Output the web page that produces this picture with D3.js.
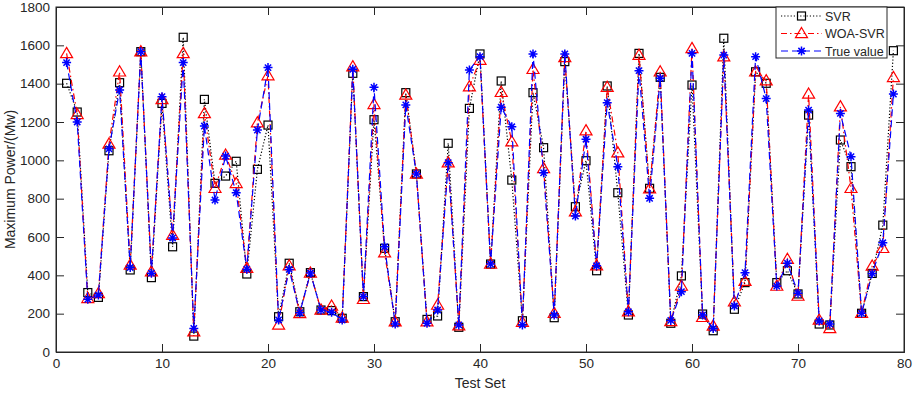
<!DOCTYPE html>
<html><head><meta charset="utf-8">
<script src="https://cdn.jsdelivr.net/npm/d3@7"></script>
<style>body{margin:0;background:#fff}svg{display:block;font-family:"Liberation Sans",Arial,sans-serif}</style>
</head><body>
<svg id="chart" width="913" height="393"></svg>
<script>
const testSet = d3.range(1, 80);
const svr = [1402,1252,310,285,1050,1405,428,1567,388,1297,549,1642,83,1318,880,918,995,407,953,1184,
184,463,210,414,219,216,176,1454,289,1212,541,158,1353,929,170,188,1089,129,1271,1555,
459,1414,897,163,1353,1066,179,1515,758,998,424,1388,831,193,1558,854,1433,150,397,1393,
198,111,1637,223,362,1462,1402,362,424,303,1236,146,141,1106,967,202,410,662,1572];
const woaSvr = [1558,1240,280,306,1085,1462,454,1567,419,1318,610,1558,106,1245,854,1028,880,437,1196,1442,
141,450,201,412,220,240,178,1489,275,1292,518,158,1341,929,158,245,988,137,1384,1523,
459,1355,1097,155,1475,958,202,1537,732,1155,450,1381,1040,210,1549,852,1462,160,344,1584,
181,136,1541,262,370,1462,1416,344,484,292,1346,167,123,1280,854,202,449,541,1433];
const trueValue = [1510,1200,275,297,1060,1367,441,1567,411,1332,595,1510,123,1179,793,1022,831,432,1158,1484,
167,431,205,412,219,208,167,1475,289,1381,549,146,1289,929,150,219,988,141,1471,1541,
459,1277,1175,141,1555,935,193,1555,709,1110,450,1301,967,210,1468,802,1428,165,315,1558,
193,123,1549,240,414,1541,1322,344,463,306,1262,162,146,1245,1019,202,410,570,1346];
const xTicks = [0,10,20,30,40,50,60,70,80];
const yTicks = [0,200,400,600,800,1000,1200,1400,1600,1800];
const seriesNames = ["SVR","WOA-SVR","True value"];

const svg = d3.select("#chart");
const L=56,R=904,T=7,B=352;
const x = d3.scaleLinear().domain([0,80]).range([L,R]);
const y = d3.scaleLinear().domain([0,1800]).range([B,T]);
const axisCol = "#262626";
const tl = 8;
const fmt = d3.format("d");

svg.append("rect").attr("x",L).attr("y",T).attr("width",R-L).attr("height",B-T)
  .attr("fill","none").attr("stroke",axisCol).attr("stroke-width",1);

const gx = svg.append("g").attr("transform",`translate(0,${B})`)
  .call(d3.axisBottom(x).tickValues(xTicks).tickSize(-tl).tickPadding(6).tickFormat(fmt));
const gxt = svg.append("g").attr("transform",`translate(0,${T})`)
  .call(d3.axisTop(x).tickValues(xTicks).tickSize(-tl).tickFormat(""));
const gy = svg.append("g").attr("transform",`translate(${L},0)`)
  .call(d3.axisLeft(y).tickValues(yTicks).tickSize(-tl).tickPadding(6).tickFormat(fmt));
const gyr = svg.append("g").attr("transform",`translate(${R},0)`)
  .call(d3.axisRight(y).tickValues(yTicks).tickSize(-tl).tickFormat(""));
[gx,gxt,gy,gyr].forEach(g=>{
  g.select(".domain").attr("stroke",axisCol);
  g.selectAll(".tick line").attr("stroke",axisCol);
  g.selectAll(".tick text").attr("fill",axisCol).style("font-size","13.5px");
});

svg.append("text").attr("x",(L+R)/2).attr("y",388).attr("text-anchor","middle")
  .attr("fill",axisCol).style("font-size","14px").text("Test Set");
svg.append("text").attr("transform",`translate(15,${(T+B)/2}) rotate(-90)`).attr("text-anchor","middle")
  .attr("fill",axisCol).style("font-size","14px").text("Maximum Power/(Mw)");

svg.append("clipPath").attr("id","clip").append("rect")
  .attr("x",L).attr("y",T).attr("width",R-L).attr("height",B-T);

const styles = [
  {data:svr,color:"#000",dash:"1.2,2",marker:"square"},
  {data:woaSvr,color:"#ff0000",dash:"6,3,1.5,3",marker:"triangle"},
  {data:trueValue,color:"#0000ff",dash:"7,4",marker:"star"}
];

function drawMarker(g, type, color, cx, cy){
  if(type==="square"){
    g.append("rect").attr("x",cx-4).attr("y",cy-4).attr("width",8).attr("height",8)
      .attr("fill","none").attr("stroke",color).attr("stroke-width",1.2);
  } else if(type==="triangle"){
    const s=6;
    g.append("path").attr("d",`M${cx},${cy-s}L${cx+s},${cy+s*0.7}L${cx-s},${cy+s*0.7}Z`)
      .attr("fill","none").attr("stroke",color).attr("stroke-width",1.2);
  } else {
    const s=4.5, d=s*0.7;
    g.append("path").attr("d",`M${cx-s},${cy}L${cx+s},${cy}M${cx},${cy-s}L${cx},${cy+s}M${cx-d},${cy-d}L${cx+d},${cy+d}M${cx-d},${cy+d}L${cx+d},${cy-d}`)
      .attr("fill","none").attr("stroke",color).attr("stroke-width",1.5);
  }
}

const line = d3.line().x((d,i)=>x(testSet[i])).y(d=>y(d));
const plotG = svg.append("g").attr("clip-path","url(#clip)");
styles.forEach(s=>{
  plotG.append("path").datum(s.data).attr("d",line).attr("fill","none")
    .attr("stroke",s.color).attr("stroke-width",1.2).attr("stroke-dasharray",s.dash);
  const mg = plotG.append("g");
  s.data.forEach((v,i)=>drawMarker(mg,s.marker,s.color,x(testSet[i]),y(v)));
});

const lg = svg.append("g");
lg.append("rect").attr("x",776).attr("y",7).attr("width",111).attr("height",51)
  .attr("fill","#fff").attr("stroke",axisCol).attr("stroke-width",1);
styles.forEach((s,i)=>{
  const ly = 16 + i*17.5;
  lg.append("line").attr("x1",781).attr("x2",822).attr("y1",ly).attr("y2",ly)
    .attr("stroke",s.color).attr("stroke-width",1.2).attr("stroke-dasharray",s.dash);
  drawMarker(lg,s.marker,s.color,801.5,ly);
  lg.append("text").attr("x",825).attr("y",ly+4.5).attr("fill",axisCol)
    .style("font-size","12.5px").text(seriesNames[i]);
});
</script>
</body></html>
